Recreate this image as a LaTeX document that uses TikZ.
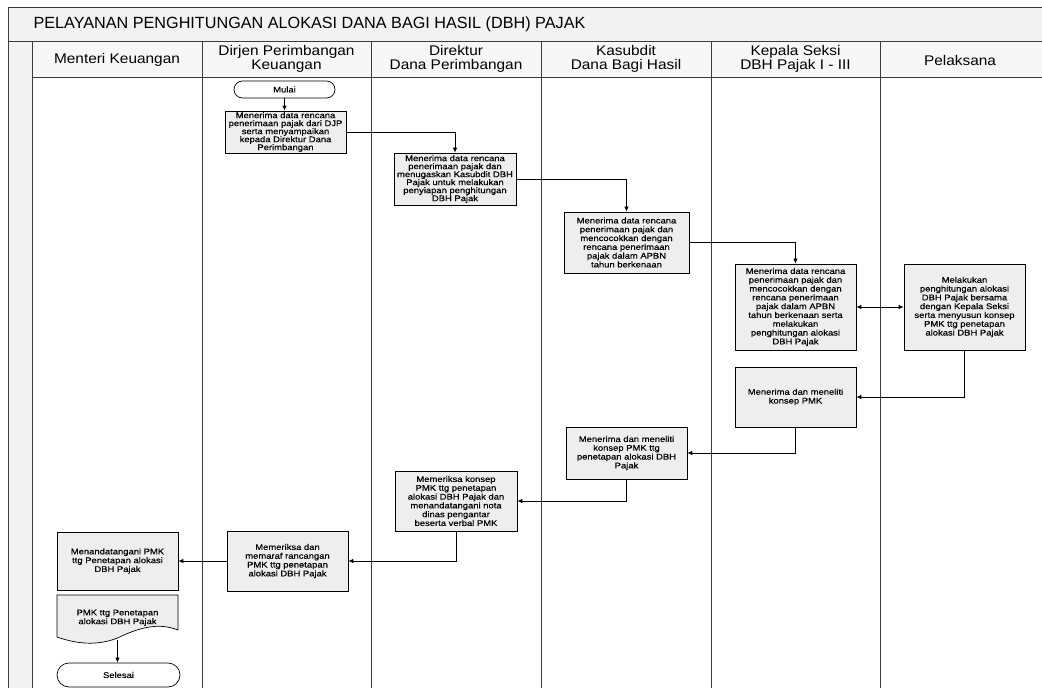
\documentclass[tikz,border=0pt]{standalone}
\usepackage{fontspec}
\setmainfont{Liberation Sans}
\newfontfamily\boxfont[FakeStretch=1.15,FakeBold=0.4]{Liberation Sans}
\newfontfamily\headfont[FakeStretch=1.1]{Liberation Sans}
\usetikzlibrary{arrows.meta}
\definecolor{boxfill}{RGB}{238,238,238}
\definecolor{bandfill}{RGB}{242,242,242}
\definecolor{linegray}{RGB}{60,60,60}
\begin{document}
\begin{tikzpicture}[x=1pt,y=-1pt,
  lane/.style={draw=linegray,line width=0.8pt},
  procbox/.style={draw=black,fill=boxfill,line width=0.7pt,align=center,inner sep=0pt,
    font=\boxfont\fontsize{8.2}{8.8}\selectfont},
  tightbox/.style={procbox,font=\boxfont\fontsize{8.2}{8.0}\selectfont},
  termbox/.style={draw=black,fill=white,line width=0.7pt,align=center,inner sep=0pt,
    font=\boxfont\fontsize{8.2}{8.8}\selectfont},
  headtext/.style={align=center,font=\headfont\fontsize{14}{13.5}\selectfont},
  flow/.style={draw=black,line width=0.8pt,-{Latex[length=5pt,width=4.5pt]}},
  flowboth/.style={draw=black,line width=0.8pt,{Latex[length=5pt,width=4.5pt]}-{Latex[length=5pt,width=4.5pt]}}
]
\useasboundingbox (0,0) rectangle (1042,688);
\fill[white] (0,0) rectangle (1042,688);

% frame: title band, left gutter and header row
\fill[bandfill] (8,7) rectangle (1042,41);
\fill[bandfill] (8,41) rectangle (32,688);
\fill[white!97!black] (32,41) rectangle (1042,77);
\draw[lane] (1042,7) -- (8,7) -- (8,688);
\draw[lane] (8,41) -- (1042,41);
\draw[lane] (32,77) -- (1042,77);
\foreach \x in {32,202,371,541,711,880} \draw[lane] (\x,41) -- (\x,688);

\node[anchor=west,font=\fontsize{16.2}{18}\selectfont] (title) at (30,24)
  {PELAYANAN PENGHITUNGAN ALOKASI DANA BAGI HASIL (DBH) PAJAK};

\node[headtext] (h1) at (117,60) {Menteri Keuangan};
\node[headtext] (h2) at (286.5,59) {Dirjen Perimbangan\\Keuangan};
\node[headtext] (h3) at (456,59) {Direktur\\Dana Perimbangan};
\node[headtext] (h4) at (626,59) {Kasubdit\\Dana Bagi Hasil};
\node[headtext] (h5) at (795.5,59) {Kepala Seksi\\DBH Pajak I - III};
\node[headtext] (h6) at (960,60) {Pelaksana};

% process steps
\node[termbox,rounded corners=8.5pt,minimum width=101pt,minimum height=17pt] (mulai) at (284.5,89.5) {Mulai};

\node[tightbox,minimum width=121pt,minimum height=42pt] (b1) at (285.5,132)
  {Menerima data rencana\\penerimaan pajak dari DJP\\serta menyampaikan\\kepada Direktur Dana\\Perimbangan};
\node[tightbox,minimum width=122pt,minimum height=52pt] (b2) at (455,179)
  {Menerima data rencana\\penerimaan pajak dan\\menugaskan Kasubdit DBH\\Pajak untuk melakukan\\penyiapan penghitungan\\DBH Pajak};
\node[procbox,minimum width=125pt,minimum height=61pt] (b3) at (626.5,242.5)
  {Menerima data rencana\\penerimaan pajak dan\\mencocokkan dengan\\rencana penerimaan\\pajak dalam APBN\\tahun berkenaan};
\node[procbox,minimum width=121pt,minimum height=86pt] (b4) at (795.5,307)
  {Menerima data rencana\\penerimaan pajak dan\\mencocokkan dengan\\rencana penerimaan\\pajak dalam APBN\\tahun berkenaan serta\\melakukan\\penghitungan alokasi\\DBH Pajak};
\node[procbox,minimum width=121pt,minimum height=86pt] (b5) at (964.5,307)
  {Melakukan\\penghitungan alokasi\\DBH Pajak bersama\\dengan Kepala Seksi\\serta menyusun konsep\\PMK ttg penetapan\\alokasi DBH Pajak};
\node[procbox,minimum width=121pt,minimum height=60pt] (b6) at (795.5,397)
  {Menerima dan meneliti\\konsep PMK};
\node[procbox,minimum width=121pt,minimum height=52pt] (b7) at (626.5,453)
  {Menerima dan meneliti\\konsep PMK ttg\\penetapan alokasi DBH\\Pajak};
\node[procbox,minimum width=122pt,minimum height=60pt] (b8) at (456,501)
  {Memeriksa konsep\\PMK ttg penetapan\\alokasi DBH Pajak dan\\menandatangani nota\\dinas pengantar\\beserta verbal PMK};
\node[procbox,minimum width=121pt,minimum height=60pt] (b9) at (287.5,561)
  {Memeriksa dan\\memaraf rancangan\\PMK ttg penetapan\\alokasi DBH Pajak};
\node[procbox,minimum width=121pt,minimum height=58pt] (b10) at (117.5,561)
  {Menandatangani PMK\\ttg Penetapan alokasi\\DBH Pajak};

% document symbol with wavy lower edge
\fill[boxfill,draw=black,line width=0.7pt] (57,595) -- (178,595) -- (178,630)
  .. controls (158,622) and (138,628) .. (117.5,638)
  .. controls (97,646) and (77,644) .. (57,637) -- cycle;
\node[font=\boxfont\fontsize{8.2}{8.8}\selectfont,align=center,anchor=north,
  minimum width=121pt,minimum height=45pt,inner sep=0pt] (doc) at (117.5,595)
  {\\[-3pt]PMK ttg Penetapan\\alokasi DBH Pajak};

\node[termbox,rounded corners=12pt,minimum width=123pt,minimum height=24pt] (selesai) at (118.5,675) {Selesai};

% flow connectors
\draw[flow] (mulai.south) -- (mulai.south |- b1.north);
\draw[flow] (b1.east) -| (b2.north);
\draw[flow] (b2.east) -| (b3.north);
\draw[flow] (b3.east) -| (b4.north);
\draw[flowboth] (b4.east) -- (b5.west);
\draw[flow] (b5.south) |- (b6.east);
\draw[flow] (b6.south) |- (b7.east);
\draw[flow] (b7.south) |- (b8.east);
\draw[flow] (b8.south) |- (b9.east);
\draw[flow] (b9.west) -- (b10.east);
\draw[flow] (doc.south) -- (doc.south |- selesai.north);
\end{tikzpicture}
\end{document}
